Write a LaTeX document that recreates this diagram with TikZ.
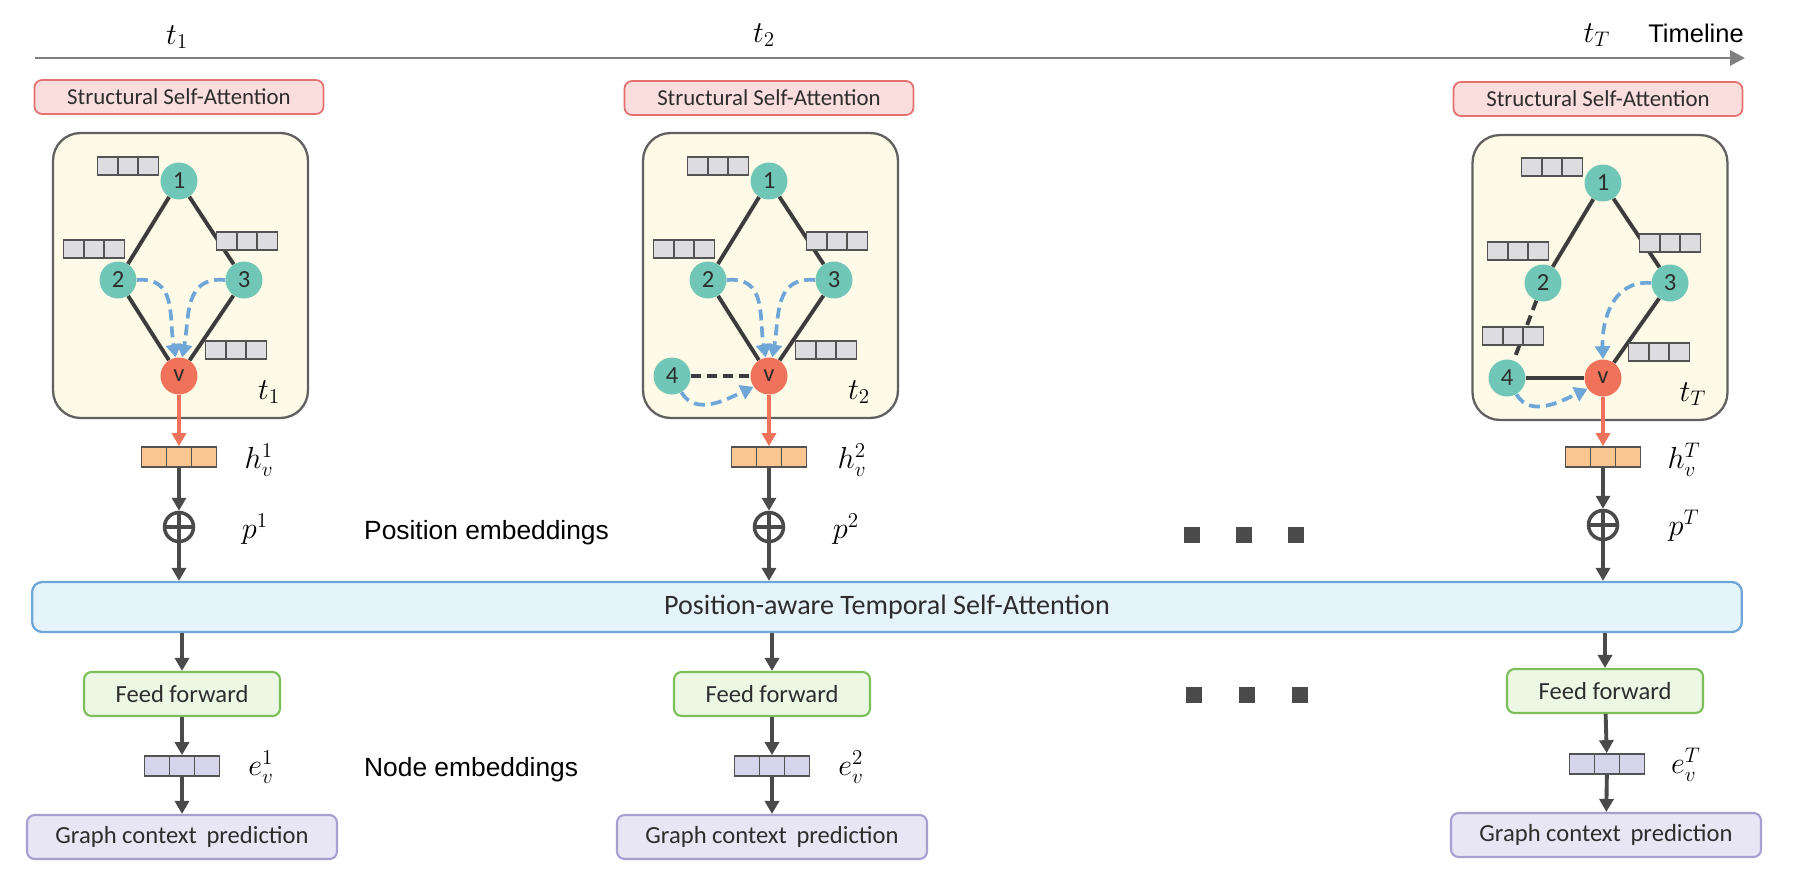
\documentclass[tikz,border=0pt]{standalone}
\usepackage{fontspec}
\setmainfont{Carlito}
\newfontfamily\arialfont{Liberation Sans}
\usetikzlibrary{arrows.meta,positioning,calc}

\definecolor{nodeteal}{RGB}{112,199,183}
\definecolor{nodev}{RGB}{240,114,90}
\definecolor{graphfill}{RGB}{253,250,231}
\definecolor{ssafill}{RGB}{250,221,221}
\definecolor{ssaborder}{RGB}{229,112,112}
\definecolor{barfill}{RGB}{229,244,251}
\definecolor{barborder}{RGB}{111,166,214}
\definecolor{fffill}{RGB}{236,247,228}
\definecolor{ffborder}{RGB}{124,190,90}
\definecolor{gcfill}{RGB}{232,230,245}
\definecolor{gcborder}{RGB}{168,158,208}
\definecolor{vecgray}{RGB}{220,220,225}
\definecolor{vecorange}{RGB}{250,199,146}
\definecolor{veclav}{RGB}{214,212,235}
\definecolor{attnblue}{RGB}{110,166,216}
\definecolor{edgegray}{RGB}{60,60,60}
\definecolor{flowgray}{RGB}{74,74,74}
\definecolor{textgray}{RGB}{45,45,45}

\tikzset{
  ssabox/.style={draw=ssaborder, fill=ssafill, line width=1pt, rounded corners=0.15cm,
    minimum width=5.78cm, minimum height=0.68cm, text=textgray, font=\fontsize{13}{15}\selectfont},
  graphbox/.style={draw=gray!75!black, fill=graphfill, line width=1.3pt, rounded corners=0.55cm,
    minimum width=5.1cm, minimum height=5.7cm},
  gnode/.style={circle, fill=nodeteal, minimum size=0.74cm, inner sep=0pt, text=textgray,
    font=\fontsize{14}{14}\selectfont},
  vnode/.style={gnode, fill=nodev},
  edge/.style={line width=2.2pt, draw=edgegray},
  dashedge/.style={edge, dash pattern=on 0.2cm off 0.12cm},
  attn/.style={line width=2.1pt, draw=attnblue, dash pattern=on 0.22cm off 0.12cm,
    -{Triangle[length=0.26cm,width=0.3cm]}, attnblue},
  vecbase/.style={draw=gray!65!black, line width=1pt, inner sep=0pt,
    path picture={\draw[line width=1pt, gray!65!black]
      ($(path picture bounding box.south west)!1/3!(path picture bounding box.south east)$) --
      ($(path picture bounding box.north west)!1/3!(path picture bounding box.north east)$)
      ($(path picture bounding box.south west)!2/3!(path picture bounding box.south east)$) --
      ($(path picture bounding box.north west)!2/3!(path picture bounding box.north east)$);}},
  vecg/.style={vecbase, fill=vecgray, minimum width=1.22cm, minimum height=0.36cm},
  hvec/.style={vecbase, fill=vecorange, minimum width=1.5cm, minimum height=0.4cm},
  evec/.style={hvec, fill=veclav},
  mathlabel/.style={font=\fontsize{17}{20}\selectfont},
  flow/.style={line width=2.2pt, draw=flowgray, -{Triangle[length=0.26cm,width=0.28cm]}, flowgray},
  redflow/.style={flow, draw=nodev, nodev},
  oplus/.style={circle, draw=flowgray, line width=2pt, minimum size=0.58cm, inner sep=0pt,
    path picture={\draw[line width=2pt, flowgray] (path picture bounding box.north) -- (path picture bounding box.south)
      (path picture bounding box.west) -- (path picture bounding box.east);}},
  ffbox/.style={draw=ffborder, fill=fffill, line width=1.2pt, rounded corners=0.15cm,
    minimum width=3.92cm, minimum height=0.88cm, text=textgray, font=\fontsize{14}{16}\selectfont},
  gcbox/.style={draw=gcborder, fill=gcfill, line width=1.2pt, rounded corners=0.15cm,
    minimum width=6.2cm, minimum height=0.88cm, text=textgray, font=\fontsize{14}{16}\selectfont},
  sidetext/.style={anchor=west, font=\arialfont\fontsize{15}{17}\selectfont},
  dotsq/.style={fill=flowgray, minimum size=0.32cm, inner sep=0pt}
}

\begin{document}
\begin{tikzpicture}[x=0.02cm, y=0.02cm]
  \path[use as bounding box, fill=white] (0,0) rectangle (1794,-879);

  % timeline
  \coordinate (tl0) at (35,-58);
  \coordinate (tl1) at (1745,-58);
  \draw[line width=1.6pt, gray, -{Triangle[length=0.3cm,width=0.3cm]}] (tl0) -- (tl1);
  \node[mathlabel] (t1) at (177,-37) {$t_1$};
  \node[mathlabel] (t2) at (764,-35) {$t_2$};
  \node[mathlabel] (tT) at (1597,-35) {$t_T$};
  \node[font=\arialfont\fontsize{14.5}{16}\selectfont] (tline) at (1696,-33) {Timeline};

  % structural self-attention boxes
  \node[ssabox] (c1ssa) at (179,-97) {Structural Self-Attention};
  \node[ssabox] (c2ssa) at (769,-98) {Structural Self-Attention};
  \node[ssabox] (c3ssa) at (1598,-99) {Structural Self-Attention};

  % graph at t_1
  \begin{scope}[shift={(179,-376)}]
    \node[graphbox] (c1box) at (1.5,100.5) {};
    \node[gnode] (c1n1) at (0,195) {1};
    \node[gnode] (c1n2) at (-61,96) {2};
    \node[gnode] (c1n3) at (65,96) {3};
    \node[vnode] (c1v) at (0,0) {v};
    \draw[edge] (c1n1) -- (c1n2);
    \draw[edge] (c1n1) -- (c1n3);
    \draw[edge] (c1n2) -- (c1v);
    \draw[edge] (c1n3) -- (c1v);
    \node[vecg] (c1a) at (-51,210) {};
    \node[vecg] (c1b) at (-85,127) {};
    \node[vecg] (c1c) at (68,135) {};
    \node[vecg] (c1d) at (57,26) {};
    \draw[attn] (c1n2.east) to[out=5,in=100,looseness=1.2] (c1v.100);
    \draw[attn] (c1n3.west) to[out=175,in=80,looseness=1.2] (c1v.80);
    \node[mathlabel] (c1t) at (90,-16) {$t_1$};
  \end{scope}

  % graph at t_2
  \begin{scope}[shift={(769,-376)}]
    \node[graphbox] (c2box) at (1.5,100.5) {};
    \node[gnode] (c2n1) at (0,195) {1};
    \node[gnode] (c2n2) at (-61,96) {2};
    \node[gnode] (c2n3) at (65,96) {3};
    \node[gnode] (c2n4) at (-97,0) {4};
    \node[vnode] (c2v) at (0,0) {v};
    \draw[edge] (c2n1) -- (c2n2);
    \draw[edge] (c2n1) -- (c2n3);
    \draw[edge] (c2n2) -- (c2v);
    \draw[edge] (c2n3) -- (c2v);
    \draw[dashedge] (c2n4) -- (c2v);
    \node[vecg] (c2a) at (-51,210) {};
    \node[vecg] (c2b) at (-85,127) {};
    \node[vecg] (c2c) at (68,135) {};
    \node[vecg] (c2d) at (57,26) {};
    \draw[attn] (c2n2.east) to[out=5,in=100,looseness=1.2] (c2v.100);
    \draw[attn] (c2n3.west) to[out=175,in=80,looseness=1.2] (c2v.80);
    \draw[attn] (c2n4.300) to[out=-60,in=205] (c2v.215);
    \node[mathlabel] (c2t) at (90,-16) {$t_2$};
  \end{scope}

  % graph at t_T
  \begin{scope}[shift={(1603,-378)}]
    \node[graphbox] (c3box) at (-3,100.5) {};
    \node[gnode] (c3n1) at (0,195) {1};
    \node[gnode] (c3n2) at (-60,95) {2};
    \node[gnode] (c3n3) at (67,95) {3};
    \node[gnode] (c3n4) at (-96,0) {4};
    \node[vnode] (c3v) at (0,0) {v};
    \draw[edge] (c3n1) -- (c3n2);
    \draw[edge] (c3n1) -- (c3n3);
    \draw[dashedge] (c3n2) -- (c3n4);
    \draw[edge] (c3n3) -- (c3v);
    \draw[edge] (c3n4) -- (c3v);
    \node[vecg] (c3a) at (-51,211) {};
    \node[vecg] (c3b) at (-85,127) {};
    \node[vecg] (c3c) at (67,135) {};
    \node[vecg] (c3d) at (56,26) {};
    \node[vecg] (c3e) at (-90,42) {};
    \draw[attn] (c3n3.west) to[out=175,in=92,looseness=1.1] (c3v.north);
    \draw[attn] (c3n4.300) to[out=-60,in=205] (c3v.215);
    \node[mathlabel] (c3t) at (90,-16) {$t_T$};
  \end{scope}

  % temporal self-attention
  \node[draw=barborder, fill=barfill, line width=1.3pt, rounded corners=0.2cm,
    minimum width=34.2cm, minimum height=1cm, text=textgray,
    font=\fontsize{16}{18}\selectfont] (tsa) at (887,-607) {Position-aware Temporal Self-Attention};

  % column t_1
  \node[hvec] (c1h) at (179,-457) {};
  \node[mathlabel] (c1hl) at (259,-460) {$h_v^1$};
  \draw[redflow] (c1v) -- (c1h);
  \node[oplus] (c1p) at (179,-527) {};
  \node[mathlabel] (c1pl) at (255,-529) {$p^1$};
  \draw[flow] (c1h) -- (c1p);
  \draw[flow] (c1p) -- (c1p |- tsa.north);
  \node[ffbox] (c1ff) at (182,-694) {Feed forward};
  \draw[flow] (tsa.south -| c1ff) -- (c1ff);
  \node[evec] (c1e) at (182,-766) {};
  \node[mathlabel] (c1el) at (261,-767) {$e_v^1$};
  \draw[flow] (c1ff) -- (c1e);
  \node[gcbox] (c1gc) at (182,-837) {Graph context\,\ prediction};
  \draw[flow] (c1e) -- (c1gc);

  % column t_2
  \node[hvec] (c2h) at (769,-457) {};
  \node[mathlabel] (c2hl) at (852,-460) {$h_v^2$};
  \draw[redflow] (c2v) -- (c2h);
  \node[oplus] (c2p) at (769,-527) {};
  \node[mathlabel] (c2pl) at (846,-529) {$p^2$};
  \draw[flow] (c2h) -- (c2p);
  \draw[flow] (c2p) -- (c2p |- tsa.north);
  \node[ffbox] (c2ff) at (772,-694) {Feed forward};
  \draw[flow] (tsa.south -| c2ff) -- (c2ff);
  \node[evec] (c2e) at (772,-766) {};
  \node[mathlabel] (c2el) at (851,-767) {$e_v^2$};
  \draw[flow] (c2ff) -- (c2e);
  \node[gcbox] (c2gc) at (772,-837) {Graph context\,\ prediction};
  \draw[flow] (c2e) -- (c2gc);

  % column t_T
  \node[hvec] (c3h) at (1603,-457) {};
  \node[mathlabel] (c3hl) at (1684,-460) {$h_v^T$};
  \draw[redflow] (c3v) -- (c3h);
  \node[oplus] (c3p) at (1603,-525) {};
  \node[mathlabel] (c3pl) at (1684,-526) {$p^T$};
  \draw[flow] (c3h) -- (c3p);
  \draw[flow] (c3p) -- (c3p |- tsa.north);
  \node[ffbox] (c3ff) at (1605,-691) {Feed forward};
  \draw[flow] (tsa.south -| c3ff) -- (c3ff);
  \node[evec] (c3e) at (1607,-764) {};
  \node[mathlabel] (c3el) at (1686,-765) {$e_v^T$};
  \draw[flow] (c3ff) -- (c3e);
  \node[gcbox] (c3gc) at (1606,-835) {Graph context\,\ prediction};
  \draw[flow] (c3e) -- (c3gc);

  % side texts and dots
  \node[sidetext] (posemb) at (358,-533) {Position embeddings};
  \node[sidetext] (nodeemb) at (358,-770) {Node embeddings};
  \node[dotsq] (d1) at (1192,-535) {};
  \node[dotsq] (d2) at (1244,-535) {};
  \node[dotsq] (d3) at (1296,-535) {};
  \node[dotsq] (d4) at (1194,-695) {};
  \node[dotsq] (d5) at (1247,-695) {};
  \node[dotsq] (d6) at (1300,-695) {};
\end{tikzpicture}
\end{document}
